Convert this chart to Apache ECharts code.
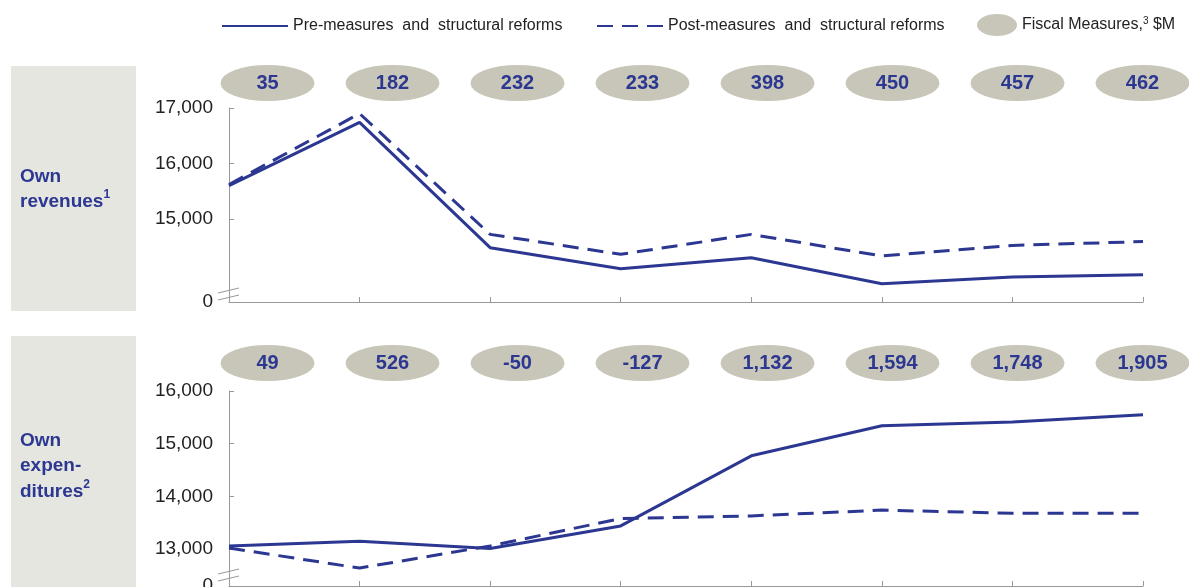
<!DOCTYPE html>
<html>
<head>
<meta charset="utf-8">
<script src="https://cdn.jsdelivr.net/npm/echarts@6/dist/echarts.min.js"></script>
<style>
  html, body { margin: 0; padding: 0; background: #fff; }
  #main { width: 1189px; height: 587px; }
</style>
</head>
<body>
<div id="main"></div>
<script>
// 8 projection years, no labels on the axis in the source
const years = ['Y1', 'Y2', 'Y3', 'Y4', 'Y5', 'Y6', 'Y7', 'Y8']

// own revenues, $M
const revPre = [15600, 16740, 14480, 14100, 14300, 13830, 13950, 13990]
const revPost = [15620, 16900, 14720, 14360, 14720, 14330, 14520, 14590]
const revFiscal = [35, 182, 232, 233, 398, 450, 457, 462]
const revTicks = [15000, 16000, 17000]

// own expenditures, $M
const expPre = [13060, 13150, 13010, 13440, 14770, 15340, 15410, 15550]
const expPost = [13020, 12640, 13060, 13580, 13630, 13740, 13680, 13680]
const expFiscal = [49, 526, -50, -127, 1132, 1594, 1748, 1905]
const expTicks = [13000, 14000, 15000, 16000]

const PRE = 'Pre-measures  and  structural reforms'
const POST = 'Post-measures  and  structural reforms'
const FISCAL = 'Fiscal Measures'

const navy = '#2b3791'
const pill = '#c8c6b8'
const axisGrey = '#999999'
const font = 'Liberation Sans, Arial, sans-serif'

// bottom of each broken axis, shown as "0"
const revMin = 13500
const expMin = 12300

const chart = echarts.init(document.getElementById('main'))

function valueAxis (gridIndex, min, max, ticks) {
  return {
    type: 'value',
    gridIndex: gridIndex,
    min: min,
    max: max,
    axisLine: { show: true, lineStyle: { color: axisGrey, width: 1 } },
    axisTick: { show: true, inside: true, length: 5, customValues: ticks, lineStyle: { color: axisGrey } },
    splitLine: { show: false },
    axisLabel: {
      customValues: [min].concat(ticks),
      margin: 16,
      color: '#222',
      fontSize: 19,
      fontFamily: font,
      formatter: (v) => (v === min ? '0' : v.toLocaleString('en-US'))
    }
  }
}

function catAxis (gridIndex) {
  return {
    type: 'category',
    gridIndex: gridIndex,
    data: years,
    boundaryGap: false,
    axisLine: { show: true, lineStyle: { color: axisGrey, width: 1 } },
    axisTick: { show: true, inside: true, length: 5, lineStyle: { color: axisGrey } },
    axisLabel: { show: false }
  }
}

function pillAxis (gridIndex) {
  return {
    type: 'category',
    gridIndex: gridIndex,
    data: years,
    boundaryGap: true,
    show: false
  }
}

function lineSeries (name, idx, data, dashed) {
  return {
    name: name,
    type: 'line',
    xAxisIndex: idx,
    yAxisIndex: idx,
    data: data,
    symbol: 'none',
    silent: true,
    lineStyle: { color: navy, width: 3, type: dashed ? [16, 9] : 'solid' },
    itemStyle: { color: navy },
    z: 3
  }
}

function pillSeries (idx, data) {
  return {
    name: FISCAL,
    type: 'scatter',
    xAxisIndex: idx,
    yAxisIndex: idx,
    symbol: 'circle',
    symbolSize: [94, 36],
    itemStyle: { color: pill, opacity: 1 },
    data: data.map((v, i) => [i, 0, v]),
    label: {
      show: true,
      position: 'inside',
      color: navy,
      fontSize: 20,
      fontWeight: 'bold',
      fontFamily: font,
      formatter: (p) => p.value[2].toLocaleString('en-US')
    }
  }
}

const legendText = { color: '#222', fontSize: 16, fontFamily: font }

const option = {
  backgroundColor: '#fff',
  animation: false,
  legend: [
    { left: 216, top: 13, itemWidth: 66, itemHeight: 14, data: [PRE], textStyle: legendText, selectedMode: false, itemStyle: { opacity: 0 } },
    { left: 591, top: 13, itemWidth: 66, itemHeight: 14, data: [POST], textStyle: legendText, selectedMode: false, itemStyle: { opacity: 0 } },
    {
      left: 972,
      top: 9,
      itemWidth: 40,
      itemHeight: 22,
      data: [{ name: FISCAL, icon: 'path://M0,11a20,11 0 1,0 40,0a20,11 0 1,0 -40,0z' }],
      selectedMode: false,
      textStyle: Object.assign({}, legendText, {
        rich: { sup: { fontSize: 10, verticalAlign: 'top', padding: [0, 0, 8, 0], color: '#222' } }
      }),
      formatter: () => 'Fiscal Measures,{sup|3} $M'
    }
  ],
  grid: [
    { left: 229, right: 46, top: 108, bottom: 285, outerBoundsMode: 'none' },
    { left: 229, right: 46, top: 391, bottom: 1, outerBoundsMode: 'none' },
    { left: 205, width: 1000, top: 65, height: 36, outerBoundsMode: 'none' },
    { left: 205, width: 1000, top: 345, height: 36, outerBoundsMode: 'none' }
  ],
  xAxis: [catAxis(0), catAxis(1), pillAxis(2), pillAxis(3)],
  yAxis: [
    valueAxis(0, revMin, 17000, revTicks),
    valueAxis(1, expMin, 16000, expTicks),
    { type: 'category', gridIndex: 2, data: ['m'], show: false },
    { type: 'category', gridIndex: 3, data: ['m'], show: false }
  ],
  graphic: [
    // row label panels
    { type: 'rect', shape: { x: 11, y: 66, width: 125, height: 245 }, style: { fill: '#e6e6e1' }, z: -1 },
    { type: 'rect', shape: { x: 11, y: 336, width: 125, height: 260 }, style: { fill: '#e6e6e1' }, z: -1 },
    {
      type: 'text',
      left: 20,
      top: 167,
      style: {
        text: '{a|Own}\n{a|revenues}{s|1}',
        rich: {
          a: { fontSize: 19, fontWeight: 'bold', fill: navy, lineHeight: 25, fontFamily: font },
          s: { fontSize: 12, fontWeight: 'bold', fill: navy, verticalAlign: 'top', lineHeight: 25, padding: [0, 0, 8, 0], fontFamily: font }
        }
      }
    },
    {
      type: 'text',
      left: 20,
      top: 431,
      style: {
        text: '{a|Own}\n{a|expen-}\n{a|ditures}{s|2}',
        rich: {
          a: { fontSize: 19, fontWeight: 'bold', fill: navy, lineHeight: 25.5, fontFamily: font },
          s: { fontSize: 12, fontWeight: 'bold', fill: navy, verticalAlign: 'top', lineHeight: 25.5, padding: [0, 0, 8, 0], fontFamily: font }
        }
      }
    },
    // axis break marks
    { type: 'line', shape: { x1: 218, y1: 293, x2: 239, y2: 288 }, style: { stroke: axisGrey, lineWidth: 1 } },
    { type: 'line', shape: { x1: 218, y1: 300, x2: 239, y2: 295 }, style: { stroke: axisGrey, lineWidth: 1 } },
    { type: 'line', shape: { x1: 218, y1: 574, x2: 239, y2: 569 }, style: { stroke: axisGrey, lineWidth: 1 } },
    { type: 'line', shape: { x1: 218, y1: 581, x2: 239, y2: 576 }, style: { stroke: axisGrey, lineWidth: 1 } }
  ],
  series: [
    lineSeries(PRE, 0, revPre, false),
    lineSeries(POST, 0, revPost, true),
    lineSeries(PRE, 1, expPre, false),
    lineSeries(POST, 1, expPost, true),
    pillSeries(2, revFiscal),
    pillSeries(3, expFiscal)
  ]
}

chart.setOption(option)
</script>
</body>
</html>
